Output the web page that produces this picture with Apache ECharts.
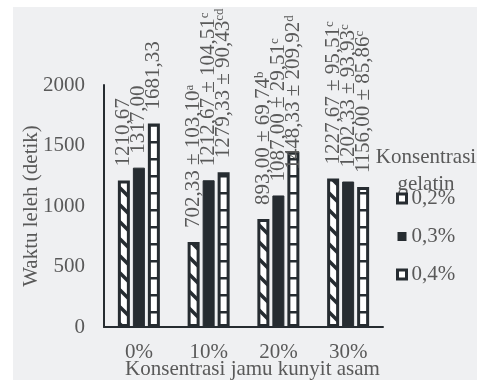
<!DOCTYPE html>
<html>
<head>
<meta charset="utf-8">
<script src="https://cdn.jsdelivr.net/npm/echarts@6/dist/echarts.min.js"></script>
<style>
  html, body { margin: 0; padding: 0; background: #ffffff; }
  #chart { width: 477px; height: 380px; }
</style>
</head>
<body>
<div id="chart"></div>
<script>
// Melting time (seconds) by tamarind-turmeric jamu concentration and gelatin level
const categories = ['0%', '10%', '20%', '30%'];
const seriesNames = ['0,2%', '0,3%', '0,4%'];
const values02 = [1210.67, 702.33, 893.00, 1227.67];
const values03 = [1317.00, 1212.67, 1087.00, 1202.33];
const values04 = [1681.33, 1279.33, 1448.33, 1156.00];
const sd02 = [null, 103.10, 69.74, 95.51];
const sd03 = [null, 104.51, 29.51, 93.93];
const sd04 = [null, 90.43, 209.92, 85.86];
const sup02 = ['', 'a', 'b', 'c'];
const sup03 = ['', 'c', 'c', 'c'];
const sup04 = ['', 'cd', 'd', 'c'];
const yTicks = [0, 500, 1000, 1500, 2000];

const DARK = '#262c31';
const GREY = '#595959';
const FONT = '"Liberation Serif", "Times New Roman", serif';
const FS = 21;
const LABEL_GAP = 14;
// the longest annotation (0,4% at 20%) is pulled down so it stays on the canvas
const labelGapOverride04 = { 2: -18 };

// diagonal hatch fill
function hatchPattern() {
  const s = 17;
  const c = document.createElement('canvas');
  c.width = s; c.height = s;
  const g = c.getContext('2d');
  g.fillStyle = '#ffffff';
  g.fillRect(0, 0, s, s);
  g.strokeStyle = DARK;
  g.lineWidth = 3.5;
  g.lineCap = 'square';
  for (const off of [-s, 0, s]) {
    g.beginPath();
    g.moveTo(off, 0);
    g.lineTo(off + s, s);
    g.stroke();
  }
  return c;
}

// horizontal rule fill
function rulePattern() {
  const w = 4, h = 17;
  const c = document.createElement('canvas');
  c.width = w; c.height = h;
  const g = c.getContext('2d');
  g.fillStyle = '#ffffff';
  g.fillRect(0, 0, w, h);
  g.fillStyle = DARK;
  g.fillRect(0, 5, w, 2.5);
  return c;
}

const fmt = v => v.toFixed(2).replace('.', ',');

function labelFormatter(sdArr, supArr) {
  return p => {
    const i = p.dataIndex;
    const base = fmt(p.value);
    if (sdArr[i] == null) return '{t|' + base + '}';
    return '{t|' + base + ' \u00B1 ' + fmt(sdArr[i]) + '}{s|' + supArr[i] + '}';
  };
}

function barLabel(sdArr, supArr) {
  return {
    show: true,
    position: 'top',
    rotate: 90,
    align: 'left',
    verticalAlign: 'middle',
    distance: LABEL_GAP,
    color: GREY,
    fontFamily: FONT,
    fontSize: FS,
    formatter: labelFormatter(sdArr, supArr),
    rich: {
      t: { fontSize: FS, fontFamily: FONT, color: GREY, verticalAlign: 'bottom' },
      s: { fontSize: 13, fontFamily: FONT, color: GREY, verticalAlign: 'top' }
    }
  };
}

function withLabelGaps(values, overrides) {
  return values.map((v, i) =>
    overrides && overrides[i] != null ? { value: v, label: { distance: overrides[i] } } : v
  );
}

const chart = echarts.init(document.getElementById('chart'), null, { renderer: 'canvas' });

chart.setOption({
  backgroundColor: '#ffffff',
  animation: false,
  graphic: [
    {
      type: 'rect',
      z: -10,
      silent: true,
      shape: { x: 13, y: 7, width: 464, height: 373 },
      style: { fill: '#eff0f2' }
    },
    {
      type: 'text',
      x: 426,
      y: 144,
      silent: true,
      style: {
        text: 'Konsentrasi\ngelatin',
        align: 'center',
        verticalAlign: 'top',
        fontFamily: FONT,
        fontSize: FS,
        lineHeight: 27,
        fill: GREY
      }
    }
  ],
  grid: { left: 104, right: 94, top: 85, bottom: 53, containLabel: false, outerBoundsMode: 'none' },
  legend: {
    orient: 'vertical',
    left: 391,
    top: 183,
    icon: 'rect',
    itemWidth: 9,
    itemHeight: 9,
    itemGap: 17,
    textStyle: { fontFamily: FONT, fontSize: FS, color: GREY },
    data: [
      { name: seriesNames[0], itemStyle: { color: '#ffffff', borderColor: DARK, borderWidth: 3 } },
      { name: seriesNames[1], itemStyle: { color: DARK, borderWidth: 0 } },
      { name: seriesNames[2], itemStyle: { color: '#ffffff', borderColor: DARK, borderWidth: 3 } }
    ]
  },
  xAxis: {
    type: 'category',
    data: categories,
    name: 'Konsentrasi jamu kunyit asam',
    nameLocation: 'middle',
    nameGap: 32,
    nameMoveOverlap: false,
    nameTextStyle: { fontFamily: FONT, fontSize: FS, color: GREY, padding: [0, 0, 0, 18] },
    axisLine: { show: true, lineStyle: { color: DARK, width: 2 } },
    axisTick: { show: false },
    axisLabel: { fontFamily: FONT, fontSize: FS, color: GREY, margin: 15 },
    splitLine: { show: false }
  },
  yAxis: {
    type: 'value',
    min: yTicks[0],
    max: yTicks[yTicks.length - 1],
    interval: yTicks[1] - yTicks[0],
    name: 'Waktu leleh (detik)',
    nameLocation: 'middle',
    nameGap: 62,
    nameMoveOverlap: false,
    nameTextStyle: { fontFamily: FONT, fontSize: FS, color: GREY },
    axisLine: { show: true, lineStyle: { color: DARK, width: 2 } },
    axisTick: { show: false },
    axisLabel: { fontFamily: FONT, fontSize: FS, color: GREY, margin: 19, formatter: v => String(v) },
    splitLine: { show: false }
  },
  series: [
    {
      name: seriesNames[0],
      type: 'bar',
      data: values02,
      barWidth: 12,
      barGap: '25%',
      itemStyle: { color: { image: hatchPattern(), repeat: 'repeat' }, borderColor: DARK, borderWidth: 3 },
      label: barLabel(sd02, sup02)
    },
    {
      name: seriesNames[1],
      type: 'bar',
      data: values03,
      barWidth: 12,
      barGap: '25%',
      itemStyle: { color: DARK, borderColor: DARK, borderWidth: 1 },
      label: barLabel(sd03, sup03)
    },
    {
      name: seriesNames[2],
      type: 'bar',
      data: withLabelGaps(values04, labelGapOverride04),
      barWidth: 12,
      barGap: '25%',
      itemStyle: { color: { image: rulePattern(), repeat: 'repeat' }, borderColor: DARK, borderWidth: 3 },
      label: barLabel(sd04, sup04)
    }
  ]
});
</script>
</body>
</html>
